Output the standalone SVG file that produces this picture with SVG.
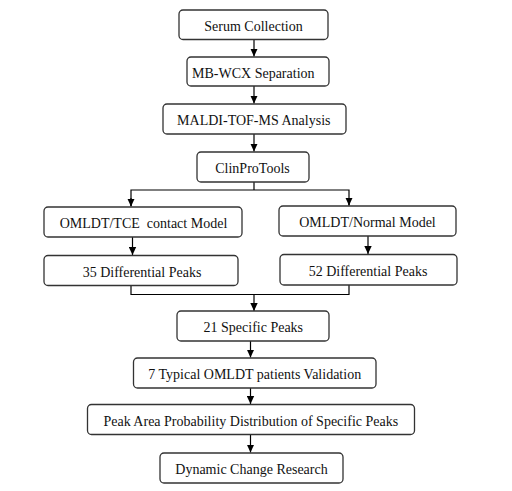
<svg xmlns="http://www.w3.org/2000/svg" width="512" height="491" viewBox="0 0 512 491">
<defs>
<marker id="ah" markerUnits="userSpaceOnUse" markerWidth="8" markerHeight="8" viewBox="0 0 8 8" refX="8" refY="4" orient="auto">
<path d="M0,0.3 L8,4 L0,7.7 Z" fill="#000"/>
</marker>
<style>
.box{fill:#fff;stroke:#333;stroke-width:1.3}
.t{font-family:"Liberation Serif","Times New Roman",serif;font-size:14px;fill:#111;text-anchor:middle;white-space:pre}
.c{fill:none;stroke:#000;stroke-width:1.2}
.a{marker-end:url(#ah)}
</style>
</defs>
<rect width="512" height="491" fill="#fff"/>
<g id="connectors">
<line class="c a" x1="254" y1="40" x2="254" y2="56.5"/>
<line class="c a" x1="254" y1="86" x2="254" y2="103.5"/>
<line class="c a" x1="254" y1="134" x2="254" y2="151.5"/>
<polyline class="c" points="254,182 254,190"/>
<polyline class="c" points="131,206 131,190 349,190 349,205.5"/>
<line class="c a" x1="131" y1="198" x2="131" y2="206.5"/>
<line class="c a" x1="349" y1="198" x2="349" y2="205.5"/>
<line class="c a" x1="132.5" y1="237" x2="132.5" y2="255"/>
<line class="c a" x1="368" y1="236" x2="368" y2="254"/>
<polyline class="c" points="131,285 131,294.5 349,294.5 349,285"/>
<line class="c a" x1="254" y1="294.5" x2="254" y2="311"/>
<line class="c a" x1="250.5" y1="341" x2="250.5" y2="357.5"/>
<line class="c a" x1="250.5" y1="388" x2="250.5" y2="404"/>
<line class="c a" x1="250.5" y1="434" x2="250.5" y2="452.5"/>
</g>
<g id="n1"><rect class="box" x="179" y="10" width="149" height="29.5" rx="4"/><text class="t" x="253.5" y="31">Serum Collection</text></g>
<g id="n2"><rect class="box" x="187" y="57" width="142" height="29" rx="4"/><text class="t" x="253.3" y="78">MB-WCX Separation</text></g>
<g id="n3"><rect class="box" x="163" y="104" width="183" height="30" rx="4"/><text class="t" x="253.8" y="125">MALDI-TOF-MS Analysis</text></g>
<g id="n4"><rect class="box" x="197" y="152" width="112" height="30" rx="4"/><text class="t" x="252.5" y="173">ClinProTools</text></g>
<g id="n5"><rect class="box" x="44" y="207" width="198" height="30" rx="4"/><text class="t" x="143.5" y="228">OMLDT/TCE  contact Model</text></g>
<g id="n6"><rect class="box" x="279" y="206" width="177" height="30" rx="4"/><text class="t" x="367.5" y="227">OMLDT/Normal Model</text></g>
<g id="n7"><rect class="box" x="44" y="255.5" width="194" height="30" rx="4"/><text class="t" x="142" y="276.5">35 Differential Peaks</text></g>
<g id="n8"><rect class="box" x="280" y="254.5" width="177" height="30.5" rx="4"/><text class="t" x="368" y="276">52 Differential Peaks</text></g>
<g id="n9"><rect class="box" x="177" y="311" width="152" height="30" rx="4"/><text class="t" x="253.3" y="332">21 Specific Peaks</text></g>
<g id="n10"><rect class="box" x="133.5" y="358" width="242.5" height="30" rx="4"/><text class="t" x="254.7" y="379">7 Typical OMLDT patients Validation</text></g>
<g id="n11"><rect class="box" x="87.5" y="404.5" width="327" height="30" rx="4"/><text class="t" x="250.8" y="425.5">Peak Area Probability Distribution of Specific Peaks</text></g>
<g id="n12"><rect class="box" x="160" y="453" width="183" height="30" rx="4"/><text class="t" x="251.5" y="474">Dynamic Change Research</text></g>
</svg>
